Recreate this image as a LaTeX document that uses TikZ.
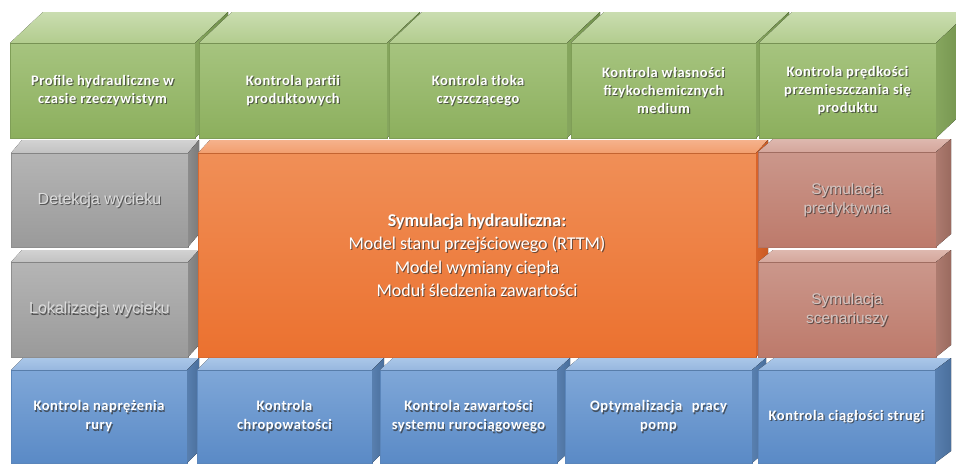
\documentclass[tikz,border=0pt]{standalone}
\usepackage{fontspec}
\setmainfont{Carlito}
\newfontfamily\blockfont[LetterSpace=4]{Carlito}
\newfontfamily\arialfont{Liberation Sans}
\usetikzlibrary{calc}

% palette
\definecolor{gFrontTop}{HTML}{A6C47F}
\definecolor{gFrontBot}{HTML}{8CAF5D}
\definecolor{gTopBack}{HTML}{CADDB0}
\definecolor{gTopFront}{HTML}{B2CC8E}
\definecolor{gSideA}{HTML}{86A65E}
\definecolor{gSideB}{HTML}{6F8E4A}
\definecolor{gEdge}{HTML}{7F9E57}
\definecolor{kFrontTop}{HTML}{B5B5B5}
\definecolor{kFrontBot}{HTML}{9A9A9A}
\definecolor{kTopBack}{HTML}{D2D2D2}
\definecolor{kTopFront}{HTML}{C2C2C2}
\definecolor{kSideA}{HTML}{8C8C8C}
\definecolor{kSideB}{HTML}{7A7A7A}
\definecolor{kEdge}{HTML}{8E8E8E}
\definecolor{oFrontTop}{HTML}{F08F57}
\definecolor{oFrontBot}{HTML}{EB712F}
\definecolor{oTopBack}{HTML}{F5B28C}
\definecolor{oTopFront}{HTML}{F29E6E}
\definecolor{oSideA}{HTML}{D8642A}
\definecolor{oSideB}{HTML}{C85A24}
\definecolor{oEdge}{HTML}{DA6A30}
\definecolor{rFrontTop}{HTML}{CB978B}
\definecolor{rFrontBot}{HTML}{BD7A6B}
\definecolor{rTopBack}{HTML}{DEB8AF}
\definecolor{rTopFront}{HTML}{D4A69B}
\definecolor{rSideA}{HTML}{AD7B6F}
\definecolor{rSideB}{HTML}{9A6A5F}
\definecolor{rEdge}{HTML}{B07466}
\definecolor{bFrontTop}{HTML}{7FA7D8}
\definecolor{bFrontBot}{HTML}{5A8AC6}
\definecolor{bTopBack}{HTML}{AAC7E8}
\definecolor{bTopFront}{HTML}{97B7DF}
\definecolor{bSideA}{HTML}{587FAF}
\definecolor{bSideB}{HTML}{4A6F9C}
\definecolor{bEdge}{HTML}{5B86BB}
\definecolor{shadowInk}{HTML}{333333}
\definecolor{greyInk}{HTML}{DCDCDC}
\definecolor{roseInk}{HTML}{D3C5C2}

\tikzset{
  face/.style={rectangle, inner sep=0pt, outer sep=0pt, anchor=north west, line width=0.5pt},
  % green row
  gfront/.style={face, top color=gFrontTop, bottom color=gFrontBot, draw=gEdge},
  gtop/.style={top color=gTopBack, bottom color=gTopFront},
  gside/.style={left color=gSideA, right color=gSideB},
  gtext/.style={align=center, inner sep=0pt, text=white, font=\blockfont\fontsize{14.5}{18}\selectfont\bfseries},
  % grey blocks
  kfront/.style={face, top color=kFrontTop, bottom color=kFrontBot, draw=kEdge},
  ktop/.style={top color=kTopBack, bottom color=kTopFront},
  kside/.style={left color=kSideA, right color=kSideB},
  ktext/.style={align=center, inner sep=0pt, text=greyInk, font=\arialfont\fontsize{16}{19}\selectfont},
  % central block
  ofront/.style={face, top color=oFrontTop, bottom color=oFrontBot, draw=oEdge},
  otop/.style={top color=oTopBack, bottom color=oTopFront},
  oside/.style={left color=oSideA, right color=oSideB},
  otext/.style={align=center, inner sep=0pt, text=white, font=\fontsize{18}{23.5}\selectfont},
  % rose blocks
  rfront/.style={face, top color=rFrontTop, bottom color=rFrontBot, draw=rEdge},
  rtop/.style={top color=rTopBack, bottom color=rTopFront},
  rside/.style={left color=rSideA, right color=rSideB},
  rtext/.style={align=center, inner sep=0pt, text=roseInk, font=\arialfont\fontsize{15.5}{19}\selectfont},
  % blue row
  bfront/.style={face, top color=bFrontTop, bottom color=bFrontBot, draw=bEdge},
  btop/.style={top color=bTopBack, bottom color=bTopFront},
  bside/.style={left color=bSideA, right color=bSideB},
  btext/.style={align=center, inner sep=0pt, text=white, font=\blockfont\fontsize{14.5}{19}\selectfont\bfseries},
  softshadow/.style={text=shadowInk, opacity=0.7},
}

% #1 colour set, #2 name, #3 x left, #4 y top, #5 x right, #6 y bottom,
% #7 depth vector, #8 label
\newcommand\cuboid[8]{%
  \node[#1front, minimum width={#5-#3}, minimum height={#6-#4}] (#2) at (#3,#4) {};
  \fill[#1top] (#2.north west) -- (#2.north east)
     -- ([shift={(#7)}]#2.north east) -- ([shift={(#7)}]#2.north west) -- cycle;
  \fill[#1side] (#2.north east) -- ([shift={(#7)}]#2.north east)
     -- ([shift={(#7)}]#2.south east) -- (#2.south east) -- cycle;
  \node[#1text, softshadow] (#2-shadow) at ([shift={(1.1,1.4)}]#2.center) {#8};
  \node[#1text] (#2-label) at (#2.center) {#8};
}

\begin{document}
\begin{tikzpicture}[x=1pt, y=-1pt]
\useasboundingbox (0,0) rectangle (956,464);
\fill[white] (0,0) rectangle (956,464);
\clip (0,0) rectangle (956,464);

% bottom row
\cuboid{b}{b1}{11}{370}{187}{463}{12,-12}{Kontrola naprężenia\\rury}
\cuboid{b}{b2}{197}{370}{372}{463}{12,-12}{Kontrola\\chropowatości}
\cuboid{b}{b3}{380}{370}{557}{463}{13,-12}{Kontrola zawartości\\systemu rurociągowego}
\cuboid{b}{b4}{565}{370}{752}{463}{14,-12}{Optymalizacja\hspace{0.4em} pracy\\pomp}
\cuboid{b}{b5}{758}{370}{935}{463}{16,-12}{Kontrola ciągłości strugi}

% middle layer
\cuboid{k}{leakloc}{11}{262}{188}{357}{11,-12}{Lokalizacja wycieku}
\cuboid{k}{leakdet}{11}{153}{188}{247}{11,-13}{Detekcja wycieku}
\cuboid{o}{hydsim}{198}{153}{756}{357}{12,-13}{\textbf{Symulacja hydrauliczna:}\\Model stanu przejściowego (RTTM)\\Model wymiany ciepła\\Moduł śledzenia zawartości}
\cuboid{r}{scenario}{758}{262}{936}{357}{15,-12}{Symulacja\\scenariuszy}
\cuboid{r}{predict}{758}{152}{936}{247}{15,-13}{Symulacja\\predyktywna}

% top row
\cuboid{g}{g1}{10}{43}{195}{138}{33,-31}{Profile hydrauliczne w\\czasie rzeczywistym}
\cuboid{g}{g2}{199}{43}{387}{138}{33,-31}{Kontrola partii\\produktowych}
\cuboid{g}{g3}{389}{43}{567}{138}{33,-31}{Kontrola tłoka\\czyszczącego}
\cuboid{g}{g4}{571}{43}{756}{138}{33,-31}{Kontrola własności\\fizykochemicznych\\medium}
\cuboid{g}{g5}{759}{43}{936}{138}{33,-31}{Kontrola prędkości\\przemieszczania się\\produktu}
\end{tikzpicture}
\end{document}
